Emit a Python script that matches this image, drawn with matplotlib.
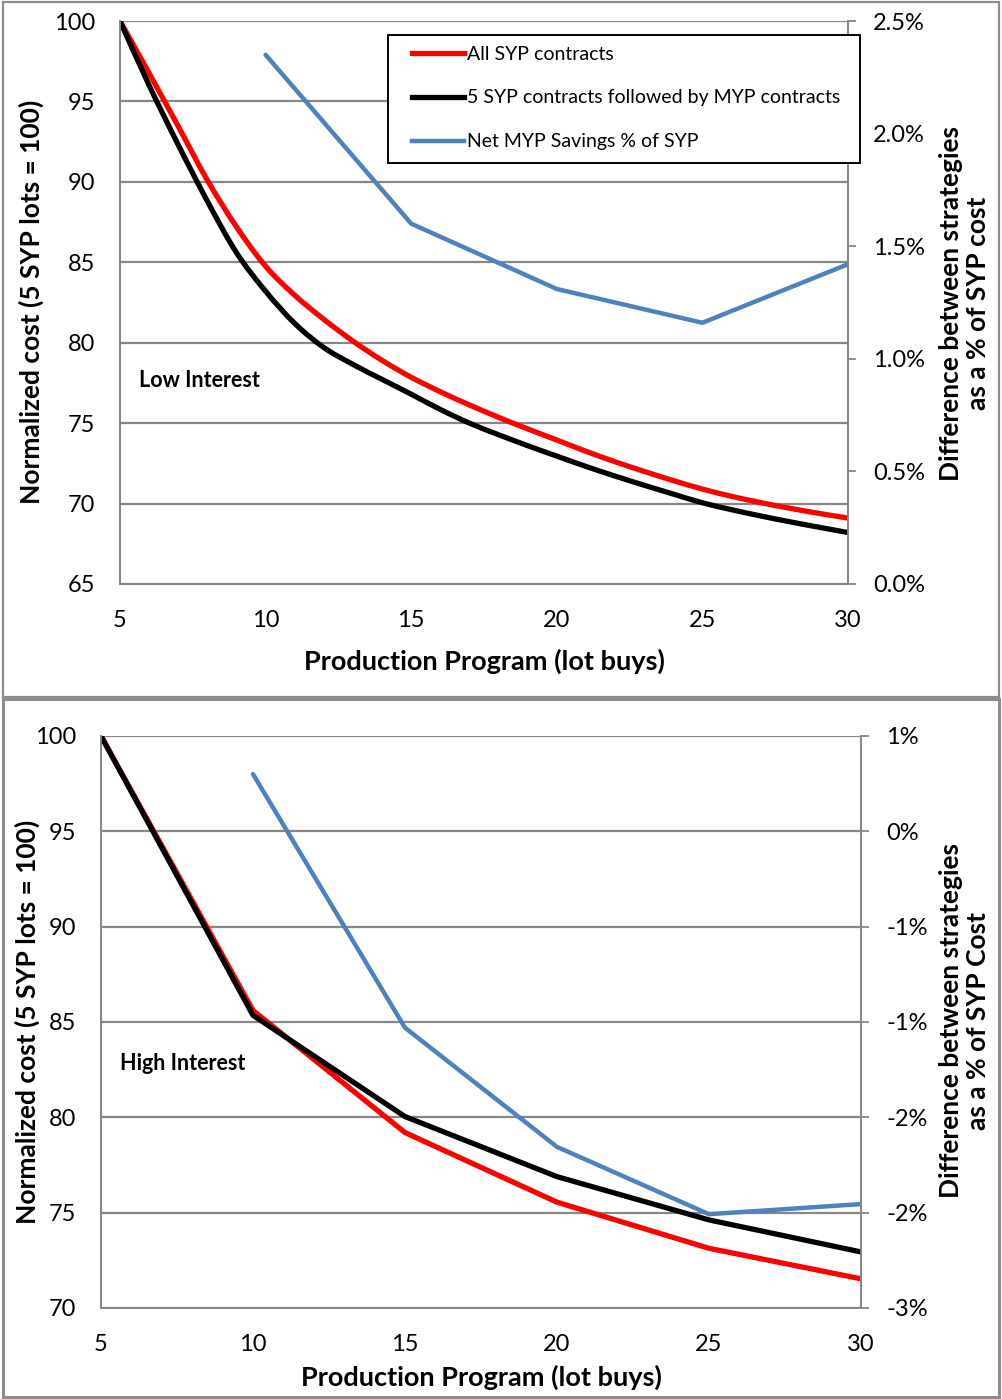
import numpy as np
import matplotlib as mpl
mpl.use('Agg')
from matplotlib import pyplot as plt
from matplotlib.patches import Rectangle, PathPatch
from matplotlib.path import Path
from matplotlib.lines import Line2D
from matplotlib.ticker import FuncFormatter, MultipleLocator

# -- data --
lots_fine = list(range(5, 31))
syp_low = [100, 96.75, 93.45, 90.1, 87.2, 84.75, 82.95, 81.45, 80.1, 78.9, 77.85,
           76.95, 76.13, 75.36, 74.64, 73.95, 73.25, 72.6, 72.0, 71.43, 70.9,
           70.45, 70.06, 69.71, 69.39, 69.1]
myp_low = [100, 96.0, 92.3, 88.8, 85.6, 83.2, 81.2, 79.7, 78.65, 77.72, 76.8,
           75.85, 75.0, 74.28, 73.6, 72.95, 72.31, 71.71, 71.14, 70.59, 70.05,
           69.62, 69.23, 68.87, 68.53, 68.2]
lots_net = [10, 15, 20, 25, 30]
net_low = [2.35, 1.60, 1.31, 1.16, 1.42]

lots = [5, 10, 15, 20, 25, 30]
syp_high = [100, 85.6, 79.2, 75.55, 73.13, 71.53]
myp_high = [100, 85.35, 80.04, 76.89, 74.62, 72.94]
net_high = [0.30, -1.03, -1.655, -2.008, -1.955]

labels = ["All SYP contracts", "5 SYP contracts followed by MYP contracts",
          "Net MYP Savings % of SYP"]

RED = "#FF0000"
BLACK = "#000000"
BLUE = "#4F81BD"
GRID = "#878787"


def excel_pct(v, pos):
    # Excel "0%" rounds half away from zero
    r = int(np.sign(v) * np.floor(abs(v) + 0.5 + 1e-9))
    return "{}%".format(r)


def smooth_line(ax, x, y, **kw):
    # Excel style smoothed line: cubic bezier through the points
    p = np.column_stack([x, y]).astype(float)
    ext = np.vstack([p[0], p, p[-1]])
    verts = [p[0]]
    codes = [Path.MOVETO]
    for i in range(len(p) - 1):
        p0, p1, p2, p3 = ext[i], ext[i + 1], ext[i + 2], ext[i + 3]
        verts += [p1 + (p2 - p0) / 6.0, p2 - (p3 - p1) / 6.0, p2]
        codes += [Path.CURVE4] * 3
    ax.add_patch(PathPatch(Path(verts, codes), fill=False, capstyle='butt',
                           joinstyle='round', **kw))


def style_axes(ax, ax2):
    for sp in list(ax.spines.values()) + list(ax2.spines.values()):
        sp.set_color(GRID)
        sp.set_linewidth(1.3)
    ax.spines['top'].set_visible(False)
    ax2.spines['top'].set_visible(False)
    ax.yaxis.grid(True, color=GRID, linewidth=1.6)
    ax.set_axisbelow(True)
    ax.tick_params(axis='x', length=0, pad=19, labelsize=17)
    ax.tick_params(axis='y', length=0, pad=18, labelsize=17)
    ax2.tick_params(axis='y', length=6, width=1.3, color=GRID, pad=12,
                    labelsize=17, direction='out')


def main():
    plt.rcParams['font.family'] = ['Lato', 'DejaVu Sans']

    fig = plt.figure(figsize=(10.02, 13.99), dpi=100)

    # panel borders
    fig.patches.append(Rectangle((3 / 1002, 1 - 697 / 1399), 996 / 1002, 695 / 1399,
                                 transform=fig.transFigure, fill=False,
                                 edgecolor="#8c8c8c", linewidth=1.6))
    fig.patches.append(Rectangle((3 / 1002, 1 - 1397 / 1399), 996 / 1002, 698 / 1399,
                                 transform=fig.transFigure, fill=False,
                                 edgecolor="#8c8c8c", linewidth=2.2))

    # -- Low interest --
    ax = fig.add_axes([120 / 1002, 1 - 584 / 1399, 728 / 1002, 563 / 1399])
    ax2 = ax.twinx()
    smooth_line(ax, lots_fine, syp_low, edgecolor=RED, lw=3.8, zorder=3)
    smooth_line(ax, lots_fine, myp_low, edgecolor=BLACK, lw=3.8, zorder=3)
    ax2.plot(lots_net, net_low, color=BLUE, lw=3.2, solid_capstyle='round')
    ax.set_xlim(5, 30)
    ax.set_ylim(65, 100)
    ax.xaxis.set_major_locator(MultipleLocator(5))
    ax.yaxis.set_major_locator(MultipleLocator(5))
    ax2.set_ylim(0, 2.5)
    ax2.yaxis.set_major_locator(MultipleLocator(0.5))
    ax2.yaxis.set_major_formatter(FuncFormatter(lambda v, p: "{:.1f}%".format(v)))
    style_axes(ax, ax2)
    ax.text(0.5, -0.137, "Production Program (lot buys)", transform=ax.transAxes,
            fontsize=19.5, fontweight='bold', ha='center', va='center')
    ax.text(-0.122, 0.501, "Normalized cost (5 SYP lots = 100)", transform=ax.transAxes,
            fontsize=19, fontweight='bold', rotation=90, ha='center', va='center')
    ax2.text(1.16, 0.499, "Difference between strategies\nas a % of SYP cost",
             transform=ax2.transAxes, fontsize=19, fontweight='bold', rotation=90,
             linespacing=1.15, multialignment='center', ha='center', va='center')
    ax.text(0.026, 0.362, "Low Interest", transform=ax.transAxes, fontsize=15.5,
            fontweight='bold', va='center', ha='left')

    # legend with a hand placed frame
    ax2.add_patch(Rectangle((268 / 728, 421 / 563), 472 / 728, 128 / 563,
                            transform=ax2.transAxes, facecolor='white',
                            edgecolor='black', linewidth=1.4, clip_on=False,
                            zorder=4))
    handles = [Line2D([], [], color=RED, lw=3.8),
               Line2D([], [], color=BLACK, lw=3.8),
               Line2D([], [], color=BLUE, lw=3.2)]
    leg = ax2.legend(handles, labels, loc='center left', bbox_to_anchor=(292 / 728, 486 / 563),
                     fontsize=14, handlelength=2.7, handletextpad=0.15,
                     borderpad=0, labelspacing=1.38, frameon=False, borderaxespad=0)
    leg.set_zorder(5)

    # -- High interest --
    bx = fig.add_axes([101 / 1002, 1 - 1308 / 1399, 760 / 1002, 572 / 1399])
    bx2 = bx.twinx()
    bx.plot(lots, syp_high, color=RED, lw=3.8, zorder=3)
    bx.plot(lots, myp_high, color=BLACK, lw=3.8, zorder=3)
    bx2.plot(lots_net, net_high, color=BLUE, lw=3.2, solid_capstyle='round')
    bx.set_xlim(5, 30)
    bx.set_ylim(70, 100)
    bx.xaxis.set_major_locator(MultipleLocator(5))
    bx.yaxis.set_major_locator(MultipleLocator(5))
    bx2.set_ylim(-2.5, 0.5)
    bx2.yaxis.set_major_locator(MultipleLocator(0.5))
    bx2.yaxis.set_major_formatter(FuncFormatter(excel_pct))
    style_axes(bx, bx2)
    bx.text(0.5, -0.121, "Production Program (lot buys)", transform=bx.transAxes,
            fontsize=19.5, fontweight='bold', ha='center', va='center')
    bx.text(-0.0974, 0.501, "Normalized cost (5 SYP lots = 100)", transform=bx.transAxes,
            fontsize=19, fontweight='bold', rotation=90, ha='center', va='center')
    bx2.text(1.136, 0.502, "Difference between strategies\nas a % of SYP Cost",
             transform=bx2.transAxes, fontsize=19, fontweight='bold', rotation=90,
             linespacing=1.15, multialignment='center', ha='center', va='center')
    bx.text(0.025, 0.428, "High Interest", transform=bx.transAxes, fontsize=15.5,
            fontweight='bold', va='center', ha='left')

    fig.savefig("out.png", dpi=100)


if __name__ == "__main__":
    main()
